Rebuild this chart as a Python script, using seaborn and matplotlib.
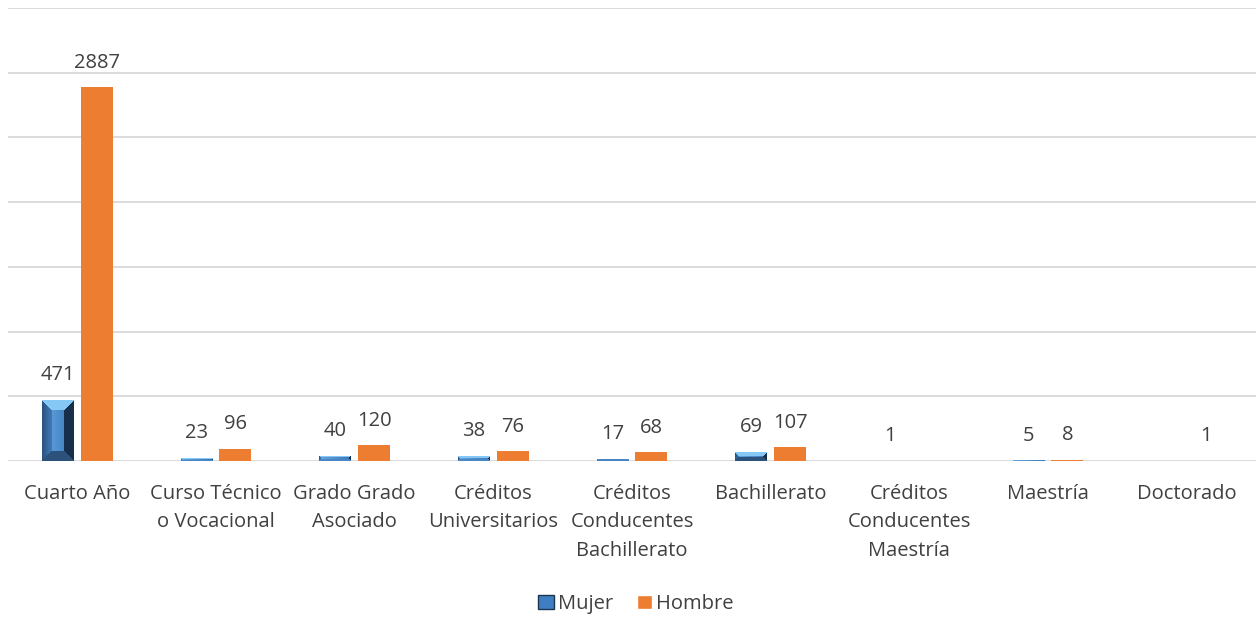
import numpy as np
import pandas as pd
import matplotlib
matplotlib.use("Agg")
import matplotlib.pyplot as plt
import seaborn as sns
from matplotlib.patches import Patch

categories = ["Cuarto Año", "Curso Técnico\no Vocacional", "Grado Grado\nAsociado",
              "Créditos\nUniversitarios", "Créditos\nConducentes\nBachillerato",
              "Bachillerato", "Créditos\nConducentes\nMaestría", "Maestría", "Doctorado"]
mujer = [471, 23, 40, 38, 17, 69, 1, 5, 0]
hombre = [2887, 96, 120, 76, 68, 107, 0, 8, 1]
series = ["Mujer", "Hombre"]

df = pd.DataFrame({
    "cat": categories * 2,
    "val": mujer + hombre,
    "serie": ["Mujer"] * len(categories) + ["Hombre"] * len(categories),
})

sns.set_theme(style="white")
plt.rcParams['font.family'] = ['Open Sans', 'DejaVu Sans']

FS = 14.5
TXT = '#404040'

fig = plt.figure(figsize=(12.56, 6.18), dpi=100)
ax = fig.add_axes([8/1256, 157/618, 1248/1256, 453/618])

palette = {"Mujer": "#4a8bd0", "Hombre": "#ed7d31"}
sns.barplot(data=df, x="cat", y="val", hue="serie", order=categories,
            hue_order=series, palette=palette, width=0.56, gap=0.18,
            saturation=1, ax=ax, legend=False, linewidth=0)

ax.set_ylim(0, 3500)
ax.set_xlim(-0.5, len(categories) - 0.5)
ax.set_yticks(np.arange(0, 3501, 500))
ax.set_yticklabels([])
ax.tick_params(axis='y', length=0)
ax.grid(axis='y', color='#d9d9d9', linewidth=1.3)
ax.set_axisbelow(True)
for s in ax.spines.values():
    s.set_visible(False)
ax.set_xlabel("")
ax.set_ylabel("")
ax.tick_params(axis='x', length=0, pad=16.5)
for lbl in ax.get_xticklabels():
    lbl.set_fontsize(FS)
    lbl.set_color(TXT)
    lbl.set_linespacing(1.56)
    lbl.set_verticalalignment('top')

# data labels
for cont, vals in zip(ax.containers, [mujer, hombre]):
    labels = [str(v) if v != 0 else "" for v in vals]
    ax.bar_label(cont, labels=labels, padding=10.5, fontsize=FS, color=TXT)

# bevel effect on Mujer bars
fig.canvas.draw()
def bevel_image(wpx, hpx):
    wpx = max(int(round(wpx)), 1)
    hpx = max(int(round(hpx)), 1)
    img = np.zeros((hpx, wpx, 3))
    top = np.array([0x86, 0xc8, 0xf5]) / 255
    left = np.array([0x35, 0x66, 0x9c]) / 255
    right = np.array([0x17, 0x2f, 0x4b]) / 255
    bottom = np.array([0x2c, 0x52, 0x7c]) / 255
    cl = np.array([0x66, 0xa8, 0xe2]) / 255
    cr = np.array([0x3a, 0x77, 0xb8]) / 255
    if hpx < 8:
        bottom = np.array([0x4a, 0x86, 0xc4]) / 255
    b = min(10, wpx / 2, hpx / 2)
    for yy in range(hpx):
        for xx in range(wpx):
            dt, db = yy + 0.5, hpx - yy - 0.5
            dl, dr = xx + 0.5, wpx - xx - 0.5
            m = min(dt, db, dl, dr)
            if m < b:
                if m == dt:
                    c = top
                elif m == db:
                    c = bottom
                elif m == dl:
                    c = left * (0.8 + 0.4 * dl / b)
                else:
                    c = right
            else:
                t = xx / max(wpx - 1, 1)
                c = cl * (1 - t) + cr * t
            img[yy, xx] = np.clip(c, 0, 1)
    return img

for p in ax.containers[0].patches:
    x0, y0 = p.get_x(), p.get_y()
    w, h = p.get_width(), p.get_height()
    if h <= 0:
        continue
    (px0, py0), (px1, py1) = ax.transData.transform([(x0, y0), (x0 + w, y0 + h)])
    img = bevel_image(px1 - px0, py1 - py0)
    im = ax.imshow(img, extent=(x0, x0 + w, y0, y0 + h), aspect='auto',
                   interpolation='nearest', zorder=p.get_zorder() + 0.1)
    im.set_clip_path(p)
ax.set_xlim(-0.5, len(categories) - 0.5)
ax.set_ylim(0, 3500)

handles = [Patch(facecolor="#3f7fc1", edgecolor="#1b3550", label="Mujer"),
           Patch(facecolor="#ed7d31", label="Hombre")]
fig.legend(handles=handles, loc='center', bbox_to_anchor=(636/1256, 1 - 604/618),
           ncol=2, frameon=False, fontsize=FS, handlelength=0.75, handleheight=0.75,
           handletextpad=0.2, columnspacing=1.2, labelcolor=TXT)

fig.savefig("out.png", dpi=100)
